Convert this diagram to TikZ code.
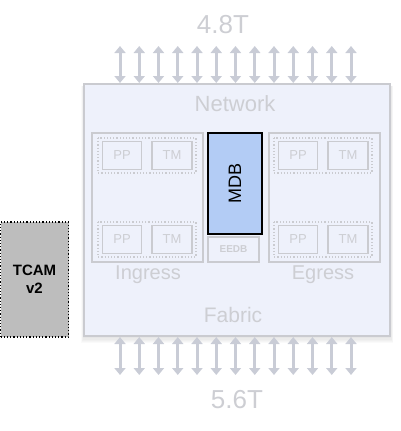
\documentclass[tikz,border=0pt]{standalone}
\usepackage{fontspec}
\setmainfont{Liberation Sans}
\usetikzlibrary{arrows.meta}

\definecolor{chipfill}{HTML}{EEF1FB}
\definecolor{chipline}{HTML}{CACBD0}
\definecolor{fadetext}{HTML}{CDCED3}
\definecolor{linkgray}{HTML}{C9CCD6}
\definecolor{mdbblue}{HTML}{B3CCF5}

\tikzset{
  unit/.style={draw=chipline, line width=1.2pt, fill=chipfill},
  subunit/.style={draw=chipline, line width=1.2pt, dotted},
  block/.style={draw=chipline, line width=1.2pt, fill=chipfill, text=fadetext, font=\fontsize{13}{13}\selectfont},
  label/.style={text=fadetext},
  link/.style={draw=linkgray, line width=3pt, {Triangle[length=7pt,width=11pt]}-{Triangle[length=7pt,width=11pt]}}
}

\begin{document}
\begin{tikzpicture}[x=1pt, y=-1pt]
  \useasboundingbox (0, 0) rectangle (400, 431);

  % chip
  \foreach \d in {1,...,6}
    \fill[black, opacity=0.018] (84 - \d/2, 86) rectangle (390 + \d/2, 336 + \d*1.2);
  \draw[unit, fill=chipfill] (84, 84) rectangle (390, 336);
  \node[label, font=\fontsize{26}{26}\selectfont] (bwtop) at (223, 25) {4.8T};
  \node[label, font=\fontsize{26}{26}\selectfont] (bwbot) at (237, 400) {5.6T};
  \node[label, font=\fontsize{22}{22}\selectfont] (network) at (235, 104) {Network};
  \node[label, font=\fontsize{21}{21}\selectfont] (fabric) at (233, 315) {Fabric};

  % links
  \foreach \i in {0,...,12} {
    \coordinate (t\i) at (120 + 19.25*\i, 46);
    \coordinate (u\i) at (120 + 19.25*\i, 83);
    \coordinate (b\i) at (120 + 19.25*\i, 337);
    \coordinate (c\i) at (120 + 19.25*\i, 375);
    \draw[link] (t\i) -- (u\i);
    \draw[link] (b\i) -- (c\i);
  }

  % ingress / egress
  \draw[unit] (92, 133) rectangle (203, 262);
  \draw[unit] (269, 133) rectangle (380, 262);
  \node[label, font=\fontsize{20}{20}\selectfont] (ingress) at (148, 275) {Ingress};
  \node[label, font=\fontsize{20}{20}\selectfont] (egress) at (323, 275) {Egress};

  \foreach \x/\s in {98/il, 274/el} {
    \foreach \y/\r in {138/a, 222/b} {
      \draw[subunit] (\x, \y) rectangle (\x + 98, \y + 35);
      \node[block, minimum width=39pt, minimum height=28pt, inner sep=0pt] (pp\s\r) at (\x + 24, \y + 17.5) {PP};
      \node[block, minimum width=40pt, minimum height=28pt, inner sep=0pt] (tm\s\r) at (\x + 74, \y + 17.5) {TM};
    }
  }

  % mdb
  \node[draw=black, line width=1.2pt, fill=mdbblue, minimum width=54pt, minimum height=101pt, inner sep=0pt] (mdb) at (235, 183.5) {};
  \node[rotate=90, font=\fontsize{18}{18}\selectfont] at (mdb.center) {MDB};
  \node[block, minimum width=51pt, minimum height=25pt, inner sep=0pt, font=\fontsize{10}{10}\selectfont\bfseries] (eedb) at (233.5, 249.5) {EEDB};

  % tcam
  \node[draw=black, line width=1.2pt, dotted, fill=black!26, minimum width=68pt, minimum height=115pt, inner sep=0pt, align=center, font=\fontsize{15}{18}\selectfont\bfseries] (tcam) at (34.5, 279.5) {TCAM\\v2};
\end{tikzpicture}
\end{document}
